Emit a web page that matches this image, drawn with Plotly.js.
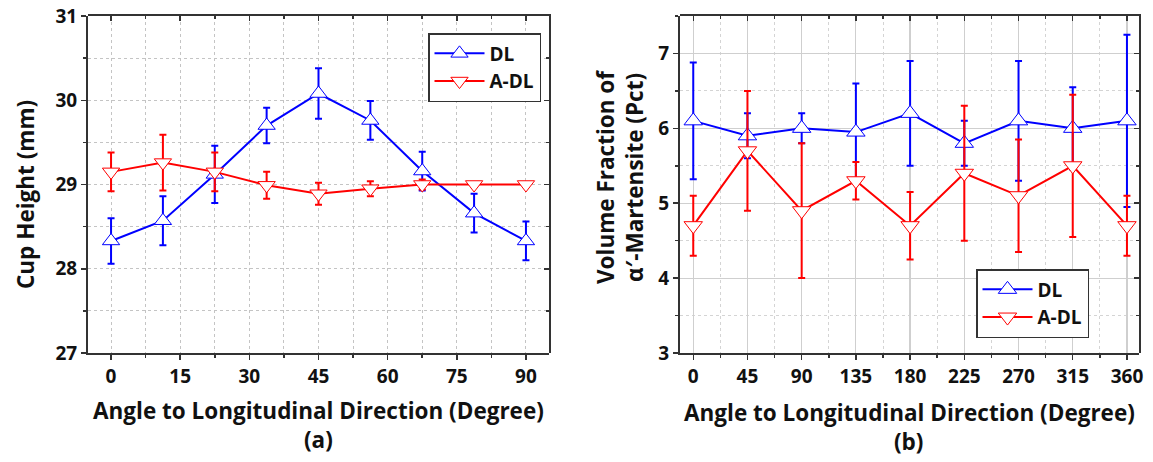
<!DOCTYPE html>
<html>
<head>
<meta charset="utf-8">
<script src="https://cdn.plot.ly/plotly-3.0.1.min.js"></script>
<style>
html,body{margin:0;padding:0;background:#fff;}
#chart{width:1153px;height:462px;}
</style>
</head>
<body>
<div id="chart"></div>
<script>
// ---- Data (a): cup height vs angle ----
const anglesA = [0, 11.25, 22.5, 33.75, 45, 56.25, 67.5, 78.75, 90];
const heightDL = [28.33, 28.57, 29.12, 29.70, 30.08, 29.76, 29.16, 28.66, 28.33];
const heightDLErr = [0.27, 0.29, 0.34, 0.21, 0.30, 0.23, 0.23, 0.23, 0.23];
const heightADL = [29.15, 29.26, 29.15, 28.99, 28.89, 28.95, 29.00, 29.00, 29.00];
const heightADLErr = [0.23, 0.33, 0.23, 0.16, 0.13, 0.09, 0.06, 0, 0];

// ---- Data (b): volume fraction of alpha'-martensite vs angle ----
const anglesB = [0, 45, 90, 135, 180, 225, 270, 315, 360];
const vfDL = [6.1, 5.9, 6.0, 5.95, 6.2, 5.8, 6.1, 6.0, 6.1];
const vfDLErr = [0.78, 0.3, 0.2, 0.65, 0.7, 0.3, 0.8, 0.55, 1.15];
const vfADL = [4.7, 5.7, 4.9, 5.3, 4.7, 5.4, 5.1, 5.5, 4.7];
const vfADLErr = [0.4, 0.8, 0.9, 0.25, 0.45, 0.9, 0.75, 0.95, 0.4];

const seriesNames = ['DL', 'A-DL'];
const xTitle = 'Angle to Longitudinal Direction (Degree)';
const yTitleA = 'Cup Height (mm)';
const yTitleB = 'Volume Fraction of<br>\u03B1\u2032-Martensite (Pct)';

const BLUE = 'rgb(0,0,255)';
const RED = 'rgb(255,0,0)';
const FONT = 'Open Sans, Noto Sans, sans-serif';

function series(x, y, err, name, color, symbol, size, xa, ya, legend) {
  return {
    type: 'scatter', mode: 'lines+markers', x: x, y: y, name: name,
    xaxis: xa, yaxis: ya, legend: legend,
    line: {color: color, width: 2},
    marker: {symbol: symbol, size: size, color: 'white', line: {color: color, width: 1}},
    error_y: {type: 'data', array: err, visible: true, color: color, thickness: 2, width: 3.5},
    hoverinfo: 'x+y'
  };
}

const traces = [
  {type:'scatter', x:[], y:[], xaxis:'x3', yaxis:'y3', showlegend:false, hoverinfo:'skip'},
  {type:'scatter', x:[], y:[], xaxis:'x4', yaxis:'y4', showlegend:false, hoverinfo:'skip'},
  series(anglesA, heightDL, heightDLErr, seriesNames[0], BLUE, 'triangle-up', 15, 'x', 'y', 'legend'),
  series(anglesA, heightADL, heightADLErr, seriesNames[1], RED, 'triangle-down', 15, 'x', 'y', 'legend'),
  series(anglesB, vfDL, vfDLErr, seriesNames[0], BLUE, 'triangle-up', 16, 'x2', 'y2', 'legend2'),
  series(anglesB, vfADL, vfADLErr, seriesNames[1], RED, 'triangle-down', 16, 'x2', 'y2', 'legend2')
];

const tickFont = {family: FONT, size: 19, color: '#111', weight: 'bold'};
const FRAME = '#333';

function baseAxis(extra) {
  return Object.assign({
    showline: true, linecolor: FRAME, linewidth: 2, zeroline: false,
    ticks: 'outside', ticklen: 5, tickwidth: 1.5, tickcolor: FRAME,
    tickfont: tickFont, fixedrange: true
  }, extra);
}

const domA = [88/1153, 549/1153];
const domB = [680/1153, 1139/1153];
const titleFont = {family: FONT, size: 22.5, color: '#111', weight: 'bold'};
const legendFont = {family: FONT, size: 19, color: '#111', weight: 'bold'};

const layout = {
  width: 1153, height: 462,
  margin: {l: 0, r: 0, t: 16, b: 109},
  paper_bgcolor: 'white', plot_bgcolor: 'rgba(0,0,0,0)',
  showlegend: true,
  font: {family: FONT, color: '#111'},
  xaxis: baseAxis({domain: domA, anchor: 'y', range: [-5, 95], tick0: 0, dtick: 15,
    showgrid: true, gridcolor: '#c4c4c4', griddash: 'dot', gridwidth: 1,
    minor: {tick0: 0, dtick: 7.5, ticks: 'outside', ticklen: 3, tickcolor: FRAME,
            showgrid: true, gridcolor: '#c4c4c4', griddash: 'dot', gridwidth: 1}}),
  yaxis: baseAxis({domain: [0, 1], anchor: 'x', range: [27, 31], tick0: 27, dtick: 1,
    showgrid: true, gridcolor: '#c4c4c4', griddash: 'dot', gridwidth: 1,
    minor: {tick0: 27, dtick: 0.5, ticks: 'outside', ticklen: 3, tickcolor: FRAME,
            showgrid: true, gridcolor: '#c4c4c4', griddash: 'dot', gridwidth: 1}}),
  xaxis3: baseAxis({domain: domA, anchor: 'y3', side: 'top', range: [-5, 95], tick0: 0, dtick: 15,
    ticks: 'inside', showticklabels: false, showgrid: false,
    minor: {tick0: 0, dtick: 7.5, ticks: 'inside', ticklen: 3, tickcolor: FRAME}}),
  yaxis3: baseAxis({domain: [0, 1], anchor: 'x3', side: 'right', range: [27, 31], tick0: 27, dtick: 1,
    ticks: 'inside', showticklabels: false, showgrid: false,
    minor: {tick0: 27, dtick: 0.5, ticks: 'inside', ticklen: 3, tickcolor: FRAME}}),
  xaxis2: baseAxis({domain: domB, anchor: 'y2', range: [-11, 370], tick0: 0, dtick: 45,
    showgrid: true, gridcolor: '#cfcfcf', gridwidth: 1.2,
    minor: {tick0: 0, dtick: 22.5, ticks: 'outside', ticklen: 3, tickcolor: FRAME,
            showgrid: true, gridcolor: '#d4d4d4', griddash: 'dot', gridwidth: 1}}),
  yaxis2: baseAxis({domain: [0, 1], anchor: 'x2', range: [3, 7.5], tick0: 3, dtick: 1,
    showgrid: true, gridcolor: '#cfcfcf', gridwidth: 1.2,
    minor: {tick0: 3, dtick: 0.5, ticks: 'outside', ticklen: 3, tickcolor: FRAME,
            showgrid: true, gridcolor: '#d4d4d4', griddash: 'dot', gridwidth: 1}}),
  xaxis4: baseAxis({domain: domB, anchor: 'y4', side: 'top', range: [-11, 370], tick0: 0, dtick: 45,
    ticks: 'inside', showticklabels: false, showgrid: false,
    minor: {tick0: 0, dtick: 22.5, ticks: 'inside', ticklen: 3, tickcolor: FRAME}}),
  yaxis4: baseAxis({domain: [0, 1], anchor: 'x4', side: 'right', range: [3, 7.5], tick0: 3, dtick: 1,
    ticks: 'inside', showticklabels: false, showgrid: false,
    minor: {tick0: 3, dtick: 0.5, ticks: 'inside', ticklen: 3, tickcolor: FRAME}}),
  legend: {x: 428/1153, y: (353-33)/337, xanchor: 'left', yanchor: 'top', xref: 'paper', yref: 'paper',
    bgcolor: 'white', bordercolor: '#333', borderwidth: 1.5, itemwidth: 50,
    font: legendFont, tracegroupgap: 0},
  legend2: {x: 976/1153, y: (353-269)/337, xanchor: 'left', yanchor: 'top', xref: 'paper', yref: 'paper',
    bgcolor: 'white', bordercolor: '#333', borderwidth: 1.5, itemwidth: 50,
    font: legendFont, tracegroupgap: 0},
  annotations: [
    {text: xTitle, xref: 'paper', yref: 'paper', x: (domA[0]+domA[1])/2, y: (353-410)/337,
     xanchor: 'center', yanchor: 'middle', showarrow: false, font: titleFont},
    {text: '(a)', xref: 'paper', yref: 'paper', x: (domA[0]+domA[1])/2, y: (353-439)/337,
     xanchor: 'center', yanchor: 'middle', showarrow: false, font: titleFont},
    {text: xTitle, xref: 'paper', yref: 'paper', x: (domB[0]+domB[1])/2, y: (353-412)/337,
     xanchor: 'center', yanchor: 'middle', showarrow: false, font: titleFont},
    {text: '(b)', xref: 'paper', yref: 'paper', x: (domB[0]+domB[1])/2, y: (353-442)/337,
     xanchor: 'center', yanchor: 'middle', showarrow: false, font: titleFont},
    {text: yTitleA, xref: 'paper', yref: 'paper', x: 25/1153, y: (353-195)/337,
     xanchor: 'center', yanchor: 'middle', showarrow: false, textangle: -90, font: titleFont},
    {text: yTitleB, xref: 'paper', yref: 'paper', x: 620/1153, y: (353-177)/337,
     xanchor: 'center', yanchor: 'middle', showarrow: false, textangle: -90, font: titleFont}
  ]
};

Plotly.newPlot('chart', traces, layout, {staticPlot: true, displayModeBar: false});
</script>
</body>
</html>
